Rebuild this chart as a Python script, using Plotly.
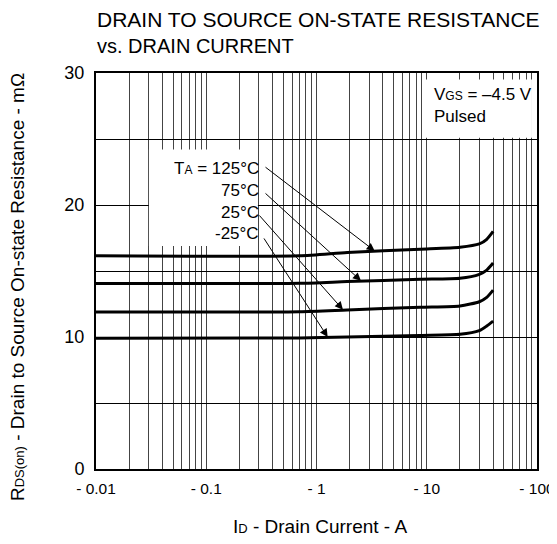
import numpy as np
import plotly.graph_objects as go

# ---- data ----
current_A = [0.01, 0.7, 1.9, 8.7, 20, 30, 35, 40]
r_125 = [16.15, 16.15, 16.4, 16.65, 16.8, 17.05, 17.4, 18.0]
r_75 = [14.05, 14.07, 14.2, 14.37, 14.45, 14.75, 15.07, 15.6]
r_25 = [11.9, 11.92, 12.05, 12.25, 12.35, 12.67, 13.0, 13.55]
r_m25 = [9.9, 9.92, 10.0, 10.12, 10.2, 10.48, 10.83, 11.2]

series_names = ["125°C", "75°C", "25°C", "-25°C"]
series_values = [r_125, r_75, r_25, r_m25]
label_texts = ["T<span style='font-size:12px'>A</span> = 125°C", "75°C", "25°C", "-25°C"]
arrow_target_current = [3.4, 2.55, 1.75, 1.27]

x_major = [0.01, 0.1, 1, 10, 100]
x_major_text = ["- 0.01", "- 0.1", "- 1", "- 10", "- 100"]
y_ticks = [0, 5, 10, 15, 20, 25, 30]
y_tick_text = ["0", "", "10", "", "20", "", "30"]

FONT = "Liberation Sans, Arial, sans-serif"

# page has an 8px body margin: figure is drawn at page offset (8, 8)
W, H = 549, 528
ML, MT, MR = 88, 65, 20
PW, PH = 441, 396
MB = H - MT - PH


def px(xp):   # page x pixel -> paper x
    return (xp - 8 - ML) / PW


def py(yp):   # page y pixel -> paper y
    return (MT + PH - (yp - 8)) / PH


# log grid values
x_grid = []
for d in [0.01, 0.1, 1, 10]:
    for k in range(1, 10):
        x_grid.append(round(d * k, 6))
x_grid.append(100)
x_grid_text = [x_major_text[x_major.index(v)] if v in x_major else "" for v in x_grid]

fig = go.Figure()

for name, vals in zip(series_names, series_values):
    fig.add_trace(go.Scatter(
        x=current_A, y=vals, mode="lines", name=name,
        line=dict(color="black", width=3, shape="spline", smoothing=0.6),
        showlegend=False, hoverinfo="skip",
    ))

# white boxes behind the labels
fig.add_shape(type="rect", xref="x", yref="y", x0=0.0302, x1=0.294, y0=16.9, y1=24.2,
              fillcolor="white", line=dict(width=0), layer="between")
fig.add_shape(type="rect", xref="x", yref="y", x0=9.1, x1=90, y0=25.1, y1=29.5,
              fillcolor="white", line=dict(width=0), layer="between")

# label texts
label_y_px = [168, 190, 212, 233]
for txt, ypx in zip(label_texts, label_y_px):
    fig.add_annotation(text=txt, xref="paper", yref="paper",
                       x=px(261), y=py(ypx),
                       xanchor="right", yanchor="middle", showarrow=False,
                       font=dict(family=FONT, size=17, color="black"))

# arrows from labels to curves
tails = [(-0.476, 22.95), (-0.476, 20.98), (-0.53, 19.32), (-0.485, 17.58)]
for vals, xc, (tx, ty) in zip(series_values, arrow_target_current, tails):
    yc = float(np.interp(np.log10(xc), np.log10(current_A), vals))
    fig.add_annotation(x=np.log10(xc), y=yc, xref="x", yref="y",
                       ax=tx, ay=ty, axref="x", ayref="y",
                       text="", showarrow=True, arrowhead=2, arrowsize=1.6,
                       arrowwidth=1, arrowcolor="black", standoff=0.5)

# conditions box text
fig.add_annotation(text="V<span style='font-size:12px'>GS</span> = –4.5 V<br>Pulsed",
                   xref="paper", yref="paper", x=px(432), y=py(83),
                   xanchor="left", yanchor="top", align="left", showarrow=False,
                   font=dict(family=FONT, size=17, color="black"))

# title
fig.add_annotation(text="<span style='font-size:21px'>DRAIN TO SOURCE ON-STATE RESISTANCE</span><br>vs. DRAIN CURRENT",
                   xref="paper", yref="paper", x=px(95), y=py(6),
                   xanchor="left", yanchor="top", align="left", showarrow=False,
                   font=dict(family=FONT, size=20, color="black"))

# axis titles
fig.add_annotation(text="I<span style='font-size:13px'>D</span> - Drain Current - A",
                   xref="paper", yref="paper", x=px(320), y=py(526),
                   xanchor="center", yanchor="middle", showarrow=False,
                   font=dict(family=FONT, size=19, color="black"))
fig.add_annotation(text="R<span style='font-size:13px'>DS(on)</span> - Drain to Source On-state Resistance - mΩ",
                   xref="paper", yref="paper", x=px(17), y=py(287),
                   xanchor="center", yanchor="middle", textangle=-90, showarrow=False,
                   font=dict(family=FONT, size=19, color="black"))

fig.update_layout(
    width=W, height=H,
    margin=dict(l=ML, r=MR, t=MT, b=MB, autoexpand=False),
    paper_bgcolor="white", plot_bgcolor="white",
    font=dict(family=FONT, size=18, color="black"),
)
fig.update_xaxes(type="log", range=[-2, 2], tickvals=x_grid, ticktext=x_grid_text,
                 showgrid=True, gridcolor="#444", gridwidth=1,
                 showline=True, linecolor="black", linewidth=2, mirror=True,
                 ticks="", zeroline=False, tickfont=dict(size=15.5),
                 automargin=False, ticklabelstandoff=4)
fig.update_yaxes(range=[0, 30], tickvals=y_ticks, ticktext=y_tick_text,
                 showgrid=True, gridcolor="black", gridwidth=1,
                 showline=True, linecolor="black", linewidth=2, mirror=True,
                 ticks="", zeroline=False, tickfont=dict(size=18),
                 ticklabelstandoff=6, automargin=False)

fig.write_html("out.html")
